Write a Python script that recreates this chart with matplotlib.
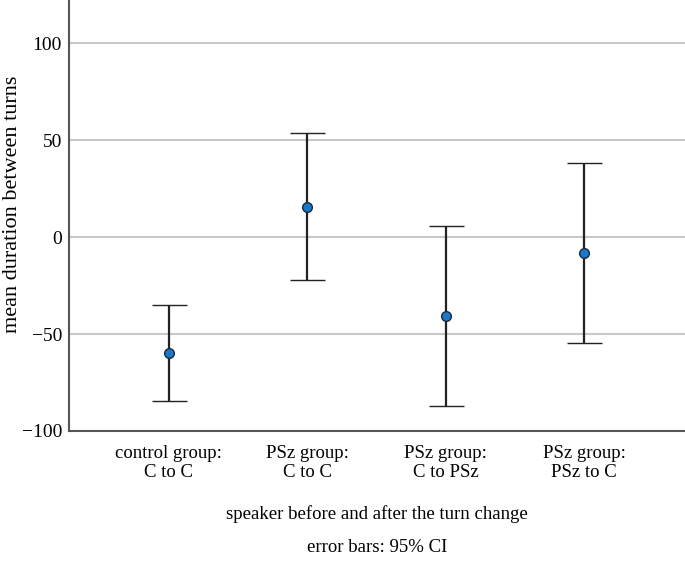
import matplotlib
matplotlib.use("Agg")
import matplotlib.pyplot as plt
import numpy as np

# groups and values
groups = ["control group:\nC to C", "PSz group:\nC to C", "PSz group:\nC to PSz", "PSz group:\nPSz to C"]
means = [-59.8, 15.5, -40.7, -8.2]
ci_upper = [-35.0, 53.6, 5.7, 38.1]
ci_lower = [-84.5, -22.2, -87.1, -54.6]

plt.rcParams['font.family'] = ['Liberation Serif', 'DejaVu Serif']

fig = plt.figure(figsize=(6.85, 5.65), dpi=100)
ax = fig.add_axes([0.1007, 0.2372, 0.8993, 0.7628])

x = np.arange(len(groups))
means = np.array(means)
err = [means - np.array(ci_lower), np.array(ci_upper) - means]

for yv in [-50, 0, 50, 100]:
    ax.axhline(yv, color="#c8c8c8", lw=1.5, zorder=0)

ax.errorbar(x, means, yerr=err, fmt='o', color="#222222", ecolor="#222222",
            elinewidth=1.6, capsize=12.6, capthick=1.6,
            markerfacecolor="#1a78c8", markeredgecolor="#1c2a3a",
            markersize=7, markeredgewidth=1, zorder=3)

ax.set_xlim(-0.72, 3.73)
ax.set_ylim(-100, 122.2)
ax.set_xticks(x)
ax.set_xticklabels(groups, fontsize=13.5)
ax.set_yticks([-100, -50, 0, 50, 100])
ax.set_yticklabels(["\u2212100", "\u221250", "0", "50", "100"], fontsize=14)
ax.tick_params(axis="y", length=0, pad=5)
ax.tick_params(axis="x", length=0, pad=10)

for side in ["top", "right"]:
    ax.spines[side].set_visible(False)
for side in ["left", "bottom"]:
    ax.spines[side].set_color("#555555")
    ax.spines[side].set_linewidth(1.5)

fig.text(13 / 685, 1 - 204 / 565, "mean duration between turns", rotation=90,
         ha="center", va="center", fontsize=16)
fig.text(0.5 + 0.1007 / 2, 1 - 514 / 565, "speaker before and after the turn change",
         ha="center", va="center", fontsize=13.5)
fig.text(0.5 + 0.1007 / 2, 1 - 548 / 565, "error bars: 95% CI",
         ha="center", va="center", fontsize=13.5)

fig.savefig("out.png", dpi=100)
